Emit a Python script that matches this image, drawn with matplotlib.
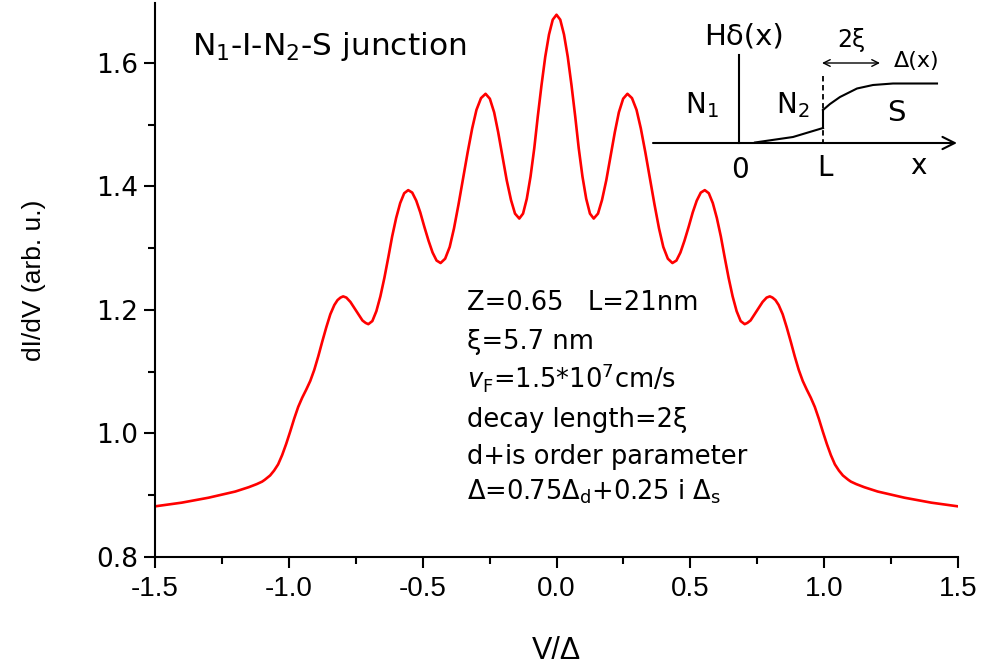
import matplotlib
matplotlib.use('Agg')
import matplotlib.pyplot as plt
from matplotlib.ticker import MultipleLocator

# dI/dV curve (symmetric in V)
v = [-1.50, -1.45, -1.40, -1.35, -1.30, -1.25, -1.20, -1.15, -1.12, -1.10,
     -1.09, -1.07, -1.055, -1.04, -1.025, -1.01, -0.995, -0.98, -0.965, -0.95,
     -0.935, -0.92, -0.905, -0.89, -0.875, -0.86, -0.845, -0.83, -0.818, -0.807, -0.797,
     -0.785, -0.77, -0.755, -0.74, -0.725, -0.713, -0.703, -0.688, -0.673, -0.658,
     -0.643, -0.628, -0.614, -0.599, -0.584, -0.569, -0.554, -0.539, -0.524, -0.509,
     -0.494, -0.478, -0.463, -0.448, -0.433, -0.416, -0.399, -0.383, -0.366, -0.349,
     -0.332, -0.315, -0.299, -0.282, -0.265, -0.249, -0.233, -0.218, -0.202, -0.186,
     -0.170, -0.155, -0.139, -0.125, -0.111, -0.097, -0.083, -0.070, -0.056, -0.042,
     -0.028, -0.014, 0.0,
     0.014, 0.028, 0.042, 0.056, 0.070, 0.083, 0.097, 0.111, 0.125, 0.139,
     0.155, 0.170, 0.186, 0.202, 0.218, 0.233, 0.249, 0.265, 0.282, 0.299,
     0.315, 0.332, 0.349, 0.366, 0.383, 0.399, 0.416, 0.433, 0.448, 0.463,
     0.478, 0.494, 0.509, 0.524, 0.539, 0.554, 0.569, 0.584, 0.599, 0.614,
     0.628, 0.643, 0.658, 0.673, 0.688, 0.703, 0.713, 0.725, 0.74, 0.755,
     0.77, 0.785, 0.797, 0.807, 0.818, 0.83, 0.845, 0.86, 0.875, 0.89,
     0.905, 0.92, 0.935, 0.95, 0.965, 0.98, 0.995, 1.01, 1.025, 1.04,
     1.055, 1.07, 1.09, 1.10, 1.12, 1.15, 1.20, 1.25, 1.30, 1.35,
     1.40, 1.45, 1.50]
didv = [0.882, 0.885, 0.888, 0.892, 0.896, 0.901, 0.906, 0.913, 0.918, 0.922,
        0.925, 0.932, 0.940, 0.950, 0.965, 0.983, 1.003, 1.024, 1.043, 1.058,
        1.071, 1.085, 1.103, 1.125, 1.149, 1.172, 1.193, 1.208, 1.216, 1.220, 1.222,
        1.220, 1.213, 1.203, 1.193, 1.183, 1.179, 1.177, 1.182, 1.198, 1.222,
        1.252, 1.286, 1.319, 1.349, 1.373, 1.389, 1.394, 1.390, 1.377, 1.358,
        1.335, 1.312, 1.293, 1.280, 1.276, 1.283, 1.302, 1.332, 1.371, 1.413,
        1.455, 1.494, 1.524, 1.543, 1.550, 1.542, 1.520, 1.488, 1.449, 1.410,
        1.378, 1.356, 1.348, 1.356, 1.380, 1.416, 1.462, 1.513, 1.564, 1.610,
        1.646, 1.670, 1.678,
        1.670, 1.646, 1.610, 1.564, 1.513, 1.462, 1.416, 1.380, 1.356, 1.348,
        1.356, 1.378, 1.410, 1.449, 1.488, 1.520, 1.542, 1.550, 1.543, 1.524,
        1.494, 1.455, 1.413, 1.371, 1.332, 1.302, 1.283, 1.276, 1.280, 1.293,
        1.312, 1.335, 1.358, 1.377, 1.390, 1.394, 1.389, 1.373, 1.349, 1.319,
        1.286, 1.252, 1.222, 1.198, 1.182, 1.177, 1.179, 1.183, 1.193, 1.203,
        1.213, 1.220, 1.222, 1.220, 1.216, 1.208, 1.193, 1.172, 1.149, 1.125,
        1.103, 1.085, 1.071, 1.058, 1.043, 1.024, 1.003, 0.983, 0.965, 0.950,
        0.940, 0.932, 0.925, 0.922, 0.918, 0.913, 0.906, 0.901, 0.896, 0.892,
        0.888, 0.885, 0.882]

params = [r'Z=0.65   L=21nm',
          r'ξ=5.7 nm',
          r'$v_\mathregular{F}$=1.5*10$^7$cm/s',
          r'decay length=2ξ',
          r'd+is order parameter',
          r'Δ=0.75Δ$_\mathregular{d}$+0.25 i Δ$_\mathregular{s}$']
param_y = [310, 349, 388, 427, 464, 500]

fig = plt.figure(figsize=(9.84, 6.68), dpi=100)
ax = fig.add_axes([155 / 984, 111 / 668, 803 / 984, 554 / 668])

ax.plot(v, didv, color='red', lw=1.9)
ax.set_xlim(-1.5, 1.5)
ax.set_ylim(0.8, 1.697)
ax.spines['top'].set_visible(False)
ax.spines['right'].set_visible(False)
for s in ['left', 'bottom']:
    ax.spines[s].set_linewidth(1.5)
ax.xaxis.set_major_locator(MultipleLocator(0.5))
ax.xaxis.set_minor_locator(MultipleLocator(0.25))
ax.yaxis.set_major_locator(MultipleLocator(0.2))
ax.yaxis.set_minor_locator(MultipleLocator(0.1))
ax.tick_params(which='major', direction='out', length=8, width=1.5)
ax.tick_params(which='minor', direction='out', length=5, width=1.5)
ax.tick_params(axis='y', pad=4)
ax.tick_params(axis='x', pad=6)
ax.set_xticklabels([f'{t:.1f}' for t in ax.get_xticks()], family='Liberation Sans', fontsize=20)
ax.set_yticklabels([f'{t:.1f}' for t in ax.get_yticks()], fontsize=19)
ax.set_ylabel('dI/dV (arb. u.)', family='Liberation Sans', fontsize=19, labelpad=36)
ax.set_xlabel('V/Δ', family='Liberation Sans', fontsize=22, labelpad=24)

# overlay in pixel coordinates for annotations and the schematic inset
ov = fig.add_axes([0, 0, 1, 1])
ov.set_xlim(0, 984)
ov.set_ylim(668, 0)
ov.axis('off')
ov.patch.set_alpha(0)

ov.text(192, 55, r'N$_1$-I-N$_2$-S junction', fontsize=22.5, va='baseline')

for txt, yy in zip(params, param_y):
    ov.text(467, yy, txt, fontsize=18.5, va='baseline')

# schematic
k = dict(color='black', lw=1.5)
ov.annotate('', xy=(957, 143), xytext=(653, 143),
            arrowprops=dict(arrowstyle='->', lw=1.5, mutation_scale=22, shrinkA=0, shrinkB=0))
ov.plot([739, 739], [55, 143], **k)
ov.plot([823, 823], [76, 143], color='black', lw=1.3, ls=(0, (3, 2)))
ov.plot([755, 793, 823], [142.5, 137, 128], **k)
ov.plot([823, 823], [128, 110], **k)
ov.plot([823, 830, 840, 857, 873, 893, 937], [110, 104, 97, 88.5, 85, 83.5, 83.5], **k)
ov.annotate('', xy=(880, 63), xytext=(822, 63),
            arrowprops=dict(arrowstyle='<->', lw=1.0, mutation_scale=12, shrinkA=0, shrinkB=0))
ov.text(744, 37, 'Hδ(x)', fontsize=21, ha='center', va='center')
ov.text(702, 105, r'N$_1$', fontsize=20, ha='center', va='center')
ov.text(793, 105, r'N$_2$', fontsize=20, ha='center', va='center')
ov.text(896, 113, 'S', fontsize=21, ha='center', va='center')
ov.text(740, 170, '0', fontsize=20, ha='center', va='center')
ov.text(825, 168, 'L', fontsize=20, ha='center', va='center')
ov.text(918, 166, 'x', fontsize=20, ha='center', va='center')
ov.text(851, 40, '2ξ', fontsize=17, ha='center', va='center')
ov.text(917, 61, 'Δ(x)', fontsize=16, ha='center', va='center')

fig.savefig('out.png', dpi=100)
